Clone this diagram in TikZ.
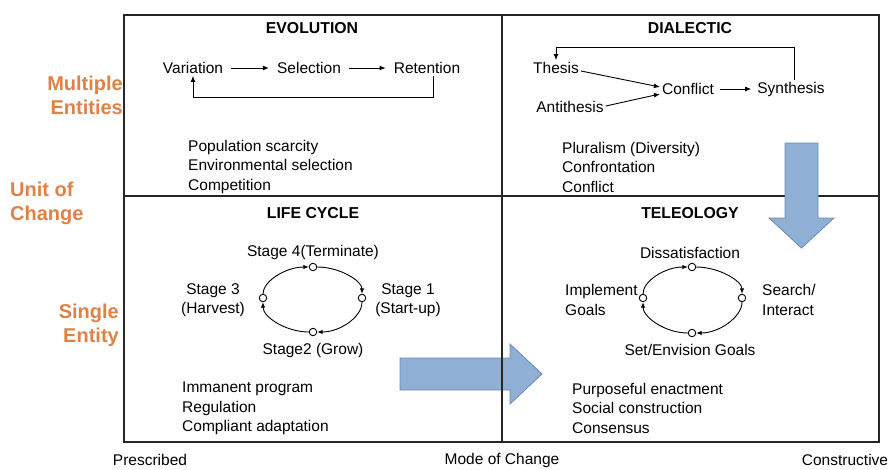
\documentclass[tikz,border=0pt]{standalone}
\usepackage{fontspec}
\setmainfont{Liberation Sans}
\usetikzlibrary{arrows.meta}
\definecolor{unitorange}{RGB}{222,130,70}
\definecolor{shiftfill}{RGB}{143,175,212}
\definecolor{shiftdraw}{RGB}{108,138,178}
\begin{document}
\begin{tikzpicture}[x=1pt,y=-1pt,
  txt/.style={inner sep=2pt,font=\fontsize{15.5}{19.5}\selectfont},
  multi/.style={txt,align=left},
  ttl/.style={inner sep=2pt,font=\fontsize{15.8}{18}\selectfont\bfseries},
  unitlbl/.style={inner sep=0pt,text=unitorange,font=\fontsize{20}{24}\selectfont\bfseries},
  frame/.style={line width=1.3pt,draw=black!85},
  flow/.style={line width=0.9pt,-{Latex[length=6pt,width=5pt]}},
  cyc/.style={line width=0.9pt,-{Latex[length=5.5pt,width=4.5pt]}},
  dot/.style={circle,draw,fill=white,line width=0.9pt,minimum size=7.5pt,inner sep=0pt},
  bigarrow/.style={fill=shiftfill,draw=shiftdraw,line width=0.8pt}
]
\useasboundingbox (0,0) rectangle (892,469);

% grid of the four quadrants
\draw[frame] (124,15) rectangle (879,442);
\draw[frame] (124,196) -- (879,196);

% horizontal shift arrow (life cycle -> teleology)
\draw[bigarrow] (400,358) -- (510,358) -- (510,344) -- (542,374) -- (510,404) -- (510,390) -- (400,390) -- cycle;
\draw[frame] (502,15) -- (502,442);
% vertical shift arrow (dialectic -> teleology)
\draw[bigarrow] (785,143) -- (818,143) -- (818,218) -- (834,218) -- (801.5,248) -- (769,218) -- (785,218) -- cycle;

% unit of change labels
\node[unitlbl,anchor=east,align=right] (multi) at (123,95) {Multiple\\Entities};
\node[unitlbl,anchor=west,align=left] (unit) at (10,203) {Unit of\\Change};
\node[unitlbl,anchor=east,align=right] (single) at (119,325) {Single\\Entity};

% mode of change labels
\node[txt] (presc) at (150,460) {Prescribed};
\node[txt] (mode) at (502,460) {Mode of Change};
\node[txt] (constr) at (845,460) {Constructive};

% ---------- EVOLUTION ----------
\node[ttl] (evt) at (312,28) {EVOLUTION};
\node[txt] (var) at (193,68) {Variation};
\node[txt] (sel) at (309,68) {Selection};
\node[txt] (ret) at (427,68) {Retention};
\draw[flow] ([xshift=6pt]var.east) -- ([xshift=-6pt]sel.west);
\draw[flow] ([xshift=6pt]sel.east) -- ([xshift=-6pt]ret.west);
\draw[flow] ([xshift=6pt]ret.south) -- ++(0,22) -| (var.south);
\node[multi,anchor=north west] (evx) at (186,138) {Population scarcity\\Environmental selection\\Competition};

% ---------- DIALECTIC ----------
\node[ttl] (dit) at (690,28) {DIALECTIC};
\node[txt] (the) at (556,68) {Thesis};
\node[txt] (ant) at (570,107) {Antithesis};
\node[txt] (con) at (688,89) {Conflict};
\node[txt] (syn) at (791,89) {Synthesis};
\coordinate (dtop) at (0,47);
\draw[flow] ([yshift=-3pt]the.east) -- ([yshift=2pt]con.west);
\draw[flow] ([yshift=1pt]ant.east) -- ([yshift=-5pt]con.west);
\draw[flow] ([xshift=4pt]con.east) -- ([xshift=-4pt]syn.west);
\draw[flow] ([xshift=3pt]syn.north) |- (dtop -| the.north) -- (the.north);
\node[multi,anchor=north west] (dix) at (560,140) {Pluralism (Diversity)\\Confrontation\\Conflict};

% ---------- LIFE CYCLE ----------
\node[ttl] (lct) at (313,213) {LIFE CYCLE};
\node[dot] (l1) at (362,298) {};
\node[dot] (l2) at (313,332) {};
\node[dot] (l3) at (263,298) {};
\node[dot] (l4) at (313,267) {};
\draw[cyc] (l3) .. controls +(0,-17) and +(-27,0) .. (l4);
\draw[cyc] (l4) .. controls +(27,0) and +(0,-17) .. (l1);
\draw[cyc] (l1) .. controls +(0,19) and +(27,0) .. (l2);
\draw[cyc] (l2) .. controls +(-27,0) and +(0,19) .. (l3);
\node[txt] (s4) at (313,252) {Stage 4(Terminate)};
\node[txt,align=center] (s3) at (213,300) {Stage 3\\(Harvest)};
\node[txt,align=center] (s1) at (408,300) {Stage 1\\(Start-up)};
\node[txt] (s2) at (313,350) {Stage2 (Grow)};
\node[multi,anchor=north west] (lcx) at (180,380) {Immanent program\\Regulation\\Compliant adaptation};

% ---------- TELEOLOGY ----------
\node[ttl] (tet) at (690,213) {TELEOLOGY};
\node[dot] (t1) at (742,298) {};
\node[dot] (t2) at (692,333) {};
\node[dot] (t3) at (643,298) {};
\node[dot] (t4) at (692,267) {};
\draw[cyc] (t3) .. controls +(0,-17) and +(-27,0) .. (t4);
\draw[cyc] (t4) .. controls +(27,0) and +(0,-17) .. (t1);
\draw[cyc] (t1) .. controls +(0,19) and +(27,0) .. (t2);
\draw[cyc] (t2) .. controls +(-27,0) and +(0,19) .. (t3);
\node[txt] (dis) at (690,253) {Dissatisfaction};
\node[txt,align=left,anchor=west] (imp) at (563,300) {Implement\\Goals};
\node[txt,align=left,anchor=west] (sea) at (760,300) {Search/\\Interact};
\node[txt] (set) at (690,350) {Set/Envision Goals};
\node[multi,anchor=north west] (tex) at (570,381) {Purposeful enactment\\Social construction\\Consensus};
\end{tikzpicture}
\end{document}
